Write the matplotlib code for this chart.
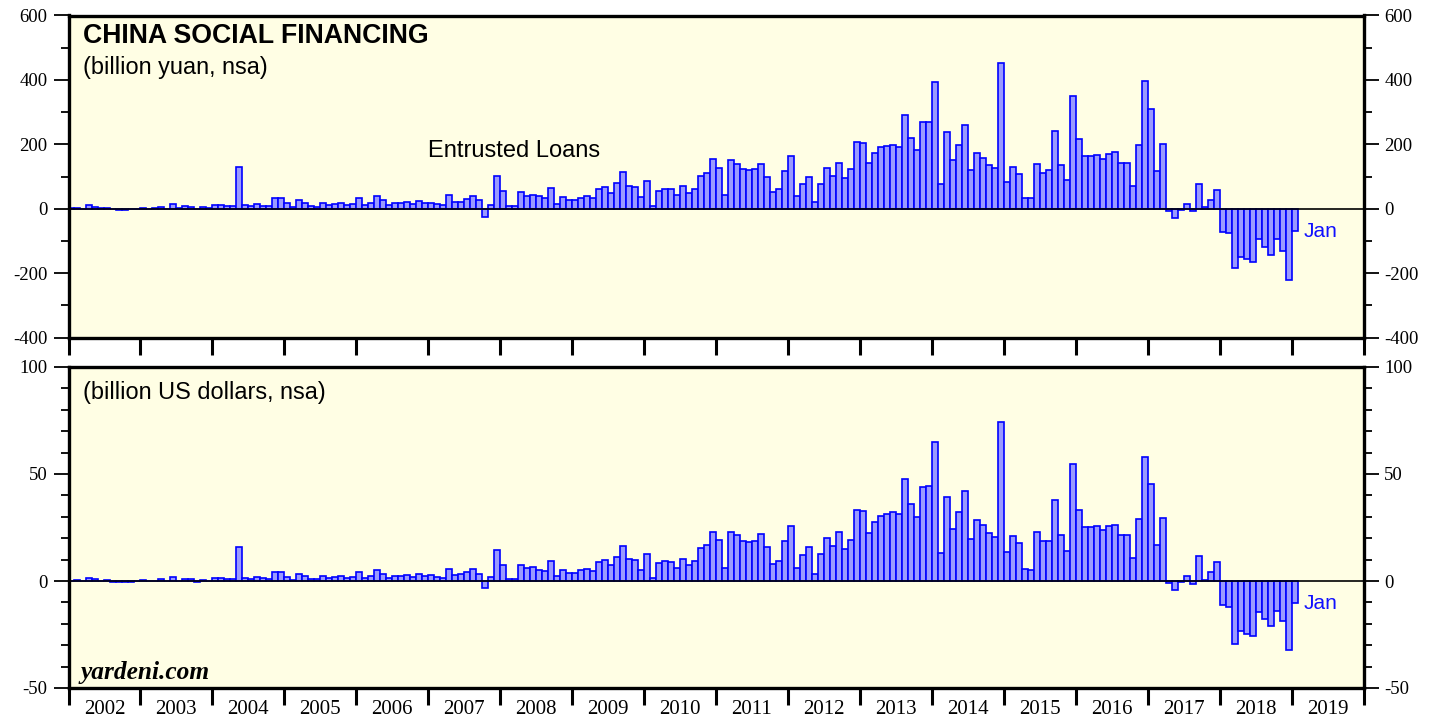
"""
China social financing: entrusted loans, monthly, yuan and US dollars.
"""

import numpy as np
import matplotlib.pyplot as plt
from matplotlib.ticker import MultipleLocator, FixedLocator, NullFormatter, FixedFormatter

# Monthly values, Jan 2002 .. Jan 2019 (one row per year)
yuan = [
    1, 2, 0, 10, 6, 1, 3, -2, -3, -3, -2, 0,                       # 2002
    3, 0, 1, 6, 0, 15, 1, 9, 6, -2, 5, 1,                          # 2003
    12, 12, 9, 9, 130, 12, 8, 15, 9, 8, 34, 34,                    # 2004
    17, 4, 27, 18, 9, 6, 18, 13, 15, 19, 10, 16,                   # 2005
    33, 10, 18, 40, 26, 11, 18, 18, 22, 14, 24, 17,                # 2006
    19, 16, 10, 43, 22, 22, 31, 40, 26, -25, 12, 103,              # 2007
    56, 9, 7, 52, 40, 44, 38, 32, 63, 15, 35, 26,                  # 2008
    26, 34, 39, 34, 61, 66, 50, 79, 113, 69, 66, 35,               # 2009
    86, 9, 56, 62, 62, 41, 69, 50, 62, 102, 112, 154,              # 2010
    127, 42, 151, 140, 122, 120, 123, 140, 100, 52, 60, 117,       # 2011
    164, 39, 76, 100, 21, 78, 127, 103, 143, 94, 122, 206,         # 2012
    205, 141, 173, 191, 196, 198, 191, 292, 220, 183, 269, 270,    # 2013
    394, 78, 239, 150, 197, 260, 121, 173, 159, 136, 126, 453,     # 2014
    82, 128, 109, 34, 32, 139, 112, 119, 240, 137, 90, 351,        # 2015
    216, 164, 164, 167, 155, 170, 176, 142, 142, 72, 197, 398,     # 2016
    311, 116, 201, -6, -28, -3, 15, -8, 76, 6, 28, 59,             # 2017
    -71, -75, -185, -149, -156, -164, -94, -120, -143, -94, -131, -221,  # 2018
    -70,                                                           # 2019
]

usd = [
    0.2, 0.3, 0.0, 1.4, 0.8, 0.2, 0.6, -0.4, -0.4, -0.4, -0.3, 0.0,
    0.5, 0.0, 0.2, 0.8, 0.0, 2.0, 0.2, 0.9, 0.9, -0.3, 0.6, 0.2,
    1.5, 1.5, 1.0, 1.0, 15.8, 1.5, 1.0, 1.9, 1.2, 1.1, 4.2, 4.2,
    2.1, 0.3, 3.4, 2.3, 1.1, 0.8, 2.3, 1.6, 1.9, 2.4, 1.2, 2.1,
    4.2, 1.3, 2.4, 5.0, 3.4, 1.5, 2.3, 2.3, 2.8, 2.0, 3.3, 2.2,
    2.6, 2.0, 1.2, 5.7, 2.8, 3.3, 4.2, 5.4, 3.4, -3.4, 1.7, 14.3,
    7.6, 1.1, 0.8, 7.5, 5.9, 6.4, 5.3, 4.7, 9.3, 2.2, 5.0, 3.6,
    3.7, 5.0, 5.7, 4.8, 8.9, 9.8, 7.3, 11.2, 16.3, 10.1, 9.6, 5.0,
    12.6, 1.2, 8.2, 9.2, 8.9, 5.9, 10.1, 7.5, 9.2, 15.3, 16.7, 23.1,
    19.1, 6.2, 22.8, 21.4, 18.6, 18.3, 18.9, 21.9, 15.7, 7.9, 9.2, 18.5,
    25.9, 6.2, 12.1, 16.0, 3.3, 12.4, 20.2, 16.5, 22.7, 14.9, 19.3, 33.1,
    32.8, 22.5, 27.6, 30.6, 31.5, 32.1, 31.1, 47.5, 35.9, 29.8, 43.8, 44.3,
    64.8, 13.0, 39.1, 24.4, 32.1, 42.2, 19.6, 28.4, 26.1, 22.2, 20.5, 74.1,
    13.5, 21.0, 17.8, 5.5, 5.1, 22.8, 18.5, 18.9, 37.7, 21.7, 14.1, 54.5,
    33.1, 25.2, 25.2, 25.9, 23.9, 25.9, 26.4, 21.4, 21.4, 10.7, 29.0, 57.8,
    45.2, 16.9, 29.3, -0.8, -4.0, -0.5, 2.3, -1.2, 11.6, 0.5, 4.2, 8.9,
    -11.0, -12.0, -29.3, -23.4, -24.8, -25.6, -14.3, -17.9, -21.1, -13.8, -18.8, -32.1,
    -10.2,
]

years = list(range(2002, 2020))

SANS = ["Liberation Sans", "DejaVu Sans"]
SERIF = ["Liberation Serif", "DejaVu Serif"]
BG = "#FFFEE4"
BAR_FILL = "#9A9AFF"
BAR_EDGE = "#0000FF"

plt.rcParams["axes.unicode_minus"] = False

W, H = 1441, 719
fig = plt.figure(figsize=(W / 100, H / 100), dpi=100)


def px_axes(left, top, right, bottom):
    # axes placed by pixel box
    return fig.add_axes([left / W, 1 - bottom / H, (right - left) / W, (bottom - top) / H])


def style_axes(ax, values, ylim, major, minor, show_years):
    x = np.arange(len(values)) + 0.5
    ax.set_facecolor(BG)
    ax.bar(x, values, width=1.0, color=BAR_FILL, edgecolor=BAR_EDGE,
           linewidth=1.2, zorder=2)
    ax.axhline(0, color="black", linewidth=1.2, zorder=3)
    ax.set_xlim(0, 12 * len(years))
    ax.set_ylim(*ylim)

    for sp in ax.spines.values():
        sp.set_linewidth(2.4)
        sp.set_zorder(4)

    # y axis on both sides
    ax.yaxis.set_major_locator(MultipleLocator(major))
    ax.yaxis.set_minor_locator(MultipleLocator(minor))
    ax.tick_params(axis="y", which="both", left=True, right=True,
                   labelleft=True, labelright=True, direction="out")
    ax.tick_params(axis="y", which="major", length=11, width=1.3, pad=4,
                   labelsize=13.5)
    ax.tick_params(axis="y", which="minor", length=6, width=1.3)
    for lab in ax.get_yticklabels():
        lab.set_family(SERIF)

    # year boundaries
    ax.xaxis.set_major_locator(FixedLocator([12 * k for k in range(len(years) + 1)]))
    ax.xaxis.set_major_formatter(NullFormatter())
    ax.tick_params(axis="x", which="major", direction="out", length=12,
                   width=2.2, top=False)
    if show_years:
        ax.xaxis.set_minor_locator(FixedLocator([12 * k + 6 for k in range(len(years))]))
        ax.xaxis.set_minor_formatter(FixedFormatter([str(y) for y in years]))
        ax.tick_params(axis="x", which="minor", length=0, pad=9, labelsize=15)
        for lab in ax.get_xticklabels(minor=True):
            lab.set_family(SERIF)
    else:
        ax.xaxis.set_minor_locator(FixedLocator([]))


ax1 = px_axes(68.5, 15.5, 1363.5, 337.5)
ax2 = px_axes(68.5, 367, 1363.5, 688)

style_axes(ax1, yuan, (-400, 600), 200, 100, show_years=False)
style_axes(ax2, usd, (-50, 100), 50, 10, show_years=True)

ax1.text(0.011, 0.935, "CHINA SOCIAL FINANCING", transform=ax1.transAxes,
         fontsize=19.2, fontweight="bold", family=SANS, va="center", ha="left")
ax1.text(0.011, 0.84, "(billion yuan, nsa)", transform=ax1.transAxes,
         fontsize=16.9, family=SANS, va="center", ha="left")
ax1.text(0.2777, 0.579, "Entrusted Loans", transform=ax1.transAxes,
         fontsize=17, family=SANS, va="center", ha="left")
ax1.text(0.9537, 0.328, "Jan", transform=ax1.transAxes, color="#1010FF",
         fontsize=15, family=SANS, va="center", ha="left")

ax2.text(0.011, 0.922, "(billion US dollars, nsa)", transform=ax2.transAxes,
         fontsize=16.9, family=SANS, va="center", ha="left")
ax2.text(0.9537, 0.262, "Jan", transform=ax2.transAxes, color="#1010FF",
         fontsize=15, family=SANS, va="center", ha="left")
ax2.text(0.009, 0.047, "yardeni.com", transform=ax2.transAxes,
         fontsize=18.3, family=SERIF, fontweight="bold", fontstyle="italic",
         va="center", ha="left")

fig.savefig("out.png", dpi=100, facecolor="white")
